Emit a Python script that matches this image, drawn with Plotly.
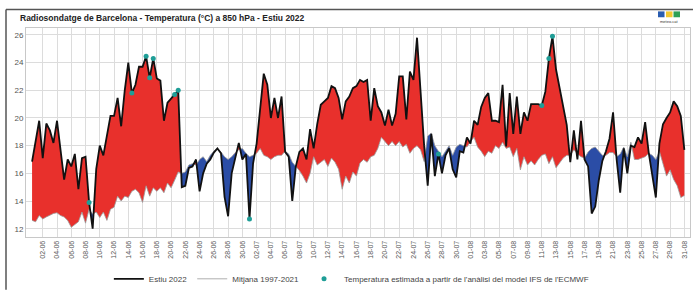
import numpy as np
import pandas as pd
import plotly.graph_objects as go

# ---- Data (12-hourly soundings, from 31-05 12Z to 31-08 00Z) ----
start_time = "2022-05-31 12:00"

obs_2022 = [
    16.85, 18.3, 19.8, 17.1, 19.6, 19.1, 18.2, 19.8, 17.7, 15.55,
    17.0, 16.5, 17.4, 14.85, 17.1, 17.2, 13.9, 12.0, 16.3, 18.0,
    17.3, 18.8, 20.15, 20.15, 21.45, 19.4, 22.0, 24.0, 21.8, 22.4,
    23.7, 23.7, 24.45, 22.9, 24.3, 22.85, 22.7, 19.8, 21.1, 21.4,
    21.7, 22.0, 15.0, 15.1, 16.4, 16.5, 17.0, 14.7, 16.0, 16.7,
    17.0, 17.5, 17.8, 17.45, 14.3, 12.9, 16.0, 17.0, 18.2, 17.0,
    17.4, 12.7, 16.7, 18.15, 20.5, 23.2, 22.4, 20.0, 21.45, 20.0,
    21.55, 17.55, 17.2, 14.0, 16.5, 17.55, 17.8, 17.0, 19.2, 17.8,
    19.55, 20.95, 21.2, 21.45, 22.3, 22.15, 21.45, 19.9, 21.2, 21.55,
    22.15, 22.3, 22.75, 22.6, 22.75, 19.8, 22.15, 20.85, 20.4, 19.45,
    20.6, 19.45, 20.3, 23.0, 23.0, 19.9, 23.35, 22.75, 25.8, 21.5,
    18.0, 15.1, 18.85, 15.8, 17.4, 16.0, 17.3, 17.8, 16.3, 15.7,
    17.6, 17.5, 18.6, 18.15, 19.8, 19.5, 20.8, 21.45, 21.8, 19.8,
    19.8, 19.7, 22.4, 17.95, 21.8, 18.85, 21.55, 18.85, 20.4, 19.8,
    21.0, 21.0, 21.0, 20.9, 21.9, 24.3, 25.9, 23.5, 22.2, 21.0,
    19.5, 16.8, 19.1, 17.0, 19.8, 17.0, 16.5, 13.1, 13.6, 15.5,
    16.9, 17.6, 18.5, 20.4, 17.0, 14.6, 17.8, 16.0, 18.0, 17.9,
    18.6, 18.15, 19.7, 17.5, 16.0, 14.25, 18.15, 19.55, 20.0, 20.4,
    21.2, 20.85, 20.15, 17.7,
]

mean_1997_2021 = [
    12.6, 12.5, 12.95, 12.7, 12.85, 13.0, 13.1, 13.15, 12.95, 12.85,
    12.6, 12.1, 12.3, 12.5, 13.2, 12.4, 13.4, 13.05, 13.2, 12.8,
    13.2, 12.6, 13.4, 13.55, 14.35, 14.0, 14.35, 14.25, 14.7, 14.85,
    14.6, 13.9, 15.1, 14.35, 14.95, 14.7, 14.95, 14.6, 15.3, 14.95,
    15.5, 16.1, 16.0, 16.1, 16.6, 16.7, 16.6, 17.0, 17.2, 16.85,
    17.3, 17.6, 17.8, 17.55, 17.2, 17.0, 17.2, 17.5, 17.7, 17.8,
    17.45, 17.2, 17.3, 17.45, 17.8, 17.3, 17.2, 17.0, 17.2, 17.3,
    17.3, 17.6, 17.4, 16.8, 16.5, 16.2, 15.8, 15.3, 16.0, 17.2,
    16.6, 16.8, 17.0, 16.5, 17.1, 16.8, 16.3, 14.85, 15.8, 15.3,
    16.1, 15.8, 16.75, 17.0, 16.8, 17.2, 17.3, 17.8, 18.6, 18.3,
    18.0, 18.3, 18.0, 18.3, 17.9, 18.1, 17.45, 17.8, 18.0, 17.7,
    16.85, 18.7, 18.9, 18.0, 17.6, 17.2, 17.6, 18.0, 17.3, 17.9,
    18.1, 18.0, 17.9, 18.3, 18.6, 17.9, 17.6, 17.2, 17.6, 17.45,
    18.0, 17.8, 18.25, 17.8, 17.9, 17.2, 17.8, 16.25, 17.2, 16.6,
    16.9, 16.6, 17.0, 17.3, 17.4, 16.7, 17.2, 16.4, 16.8, 17.1,
    17.3, 17.3, 17.7, 17.4, 17.2, 17.1, 17.55, 17.8, 17.9, 17.6,
    17.3, 17.3, 17.5, 17.5, 17.2, 17.4, 17.9, 17.2, 18.25, 17.0,
    17.0, 17.1, 17.2, 17.45, 17.3, 17.0, 17.6, 16.7, 15.8, 16.25,
    15.55, 15.1, 14.25, 14.4,
]

# soundings replaced by the ECMWF IFS analysis (index in the series)
estimated_idx = [16, 28, 32, 33, 34, 40, 41, 61, 114, 143, 145, 146]

tick_labels = ["02-06", "04-06", "06-06", "08-06", "10-06", "12-06", "14-06", "16-06",
               "18-06", "20-06", "22-06", "24-06", "26-06", "28-06", "30-06",
               "02-07", "04-07", "06-07", "08-07", "10-07", "12-07", "14-07", "16-07",
               "18-07", "20-07", "22-07", "24-07", "26-07", "28-07", "30-07",
               "01-08", "03-08", "05-08", "07-08", "09-08", "11-08", "13-08", "15-08",
               "17-08", "19-08", "21-08", "23-08", "25-08", "27-08", "29-08", "31-08"]

# ---- Build geometry ----
obs = np.array(obs_2022, dtype=float)
mean = np.array(mean_1997_2021, dtype=float)
n = len(obs)
t0 = pd.Timestamp(start_time)
times = t0 + pd.to_timedelta(np.arange(n) * 12, unit="h")

# refine with crossing points so the fills switch colour exactly at crossings
xs, oo, mm = [], [], []
for k in range(n):
    xs.append(float(k)); oo.append(obs[k]); mm.append(mean[k])
    if k < n - 1:
        d0 = obs[k] - mean[k]
        d1 = obs[k + 1] - mean[k + 1]
        if d0 * d1 < 0:
            f = d0 / (d0 - d1)
            v = obs[k] + f * (obs[k + 1] - obs[k])
            xs.append(k + f); oo.append(v); mm.append(v)
xs = np.array(xs); oo = np.array(oo); mm = np.array(mm)
xt = t0 + pd.to_timedelta(xs * 12, unit="h")
upper = np.maximum(oo, mm)
lower = np.minimum(oo, mm)

RED = "#e8302c"
BLUE = "#2b4da6"
TEAL = "#1f9e97"

fig = go.Figure()
fig.add_trace(go.Scatter(x=xt, y=mm, mode="lines", line=dict(width=0), showlegend=False, hoverinfo="skip"))
fig.add_trace(go.Scatter(x=xt, y=upper, mode="lines", line=dict(width=0), fill="tonexty",
                         fillcolor=RED, showlegend=False, hoverinfo="skip"))
fig.add_trace(go.Scatter(x=xt, y=mm, mode="lines", line=dict(width=0), showlegend=False, hoverinfo="skip"))
fig.add_trace(go.Scatter(x=xt, y=lower, mode="lines", line=dict(width=0), fill="tonexty",
                         fillcolor=BLUE, showlegend=False, hoverinfo="skip"))

fig.add_trace(go.Scatter(x=times, y=mean, mode="lines", name="Mitjana 1997-2021",
                         line=dict(color="#9a9a9a", width=0.8), legendrank=2))
fig.add_trace(go.Scatter(x=times, y=obs, mode="lines", name="Estiu 2022",
                         line=dict(color="#111111", width=1.8), legendrank=1))
fig.add_trace(go.Scatter(x=times[estimated_idx], y=obs[estimated_idx], mode="markers",
                         name="Temperatura estimada a partir de l'anàlisi del model IFS de l'ECMWF",
                         marker=dict(color=TEAL, size=5), legendrank=3))

tickvals = pd.Timestamp("2022-06-02") + pd.to_timedelta(np.arange(len(tick_labels)) * 2, unit="D")

fig.update_xaxes(
    range=[pd.Timestamp("2022-05-30 15:36"), pd.Timestamp("2022-08-31 19:00")],
    tickmode="array", tickvals=tickvals, ticktext=tick_labels, tickangle=-90,
    tickfont=dict(size=7, color="#555555", family="Liberation Sans"),
    showgrid=True, gridcolor="#dcdcdc", gridwidth=1,
    showline=True, linecolor="#c8c8c8", linewidth=1, mirror=True,
    ticks="", zeroline=False, automargin=False,
)
fig.update_yaxes(
    range=[11.4, 26.5], tickvals=[12, 14, 16, 18, 20, 22, 24, 26],
    tickfont=dict(size=8, color="#555555", family="Liberation Sans"),
    showgrid=True, gridcolor="#dcdcdc", gridwidth=1,
    showline=True, linecolor="#c8c8c8", linewidth=1, mirror=True,
    ticks="", zeroline=False, automargin=False,
)

shapes = [
    # outer page frame (top and left)
    dict(type="line", xref="paper", yref="paper", x0=(6 - 26) / 664, x1=(693 - 26) / 664,
         y0=(242 - 9) / 214, y1=(242 - 9) / 214, line=dict(color="#555555", width=1.5)),
    dict(type="line", xref="paper", yref="paper", x0=(6 - 26) / 664, x1=(6 - 26) / 664,
         y0=(242 - 9) / 214, y1=(242 - 296) / 214, line=dict(color="#555555", width=1.5)),
]
# small logo squares
for x0p, col in [(658, "#2a5db0"), (666, "#f2c830"), (673.5, "#2ea055")]:
    shapes.append(dict(type="rect", xref="paper", yref="paper",
                       x0=(x0p - 26) / 664, x1=(x0p + 6.5 - 26) / 664,
                       y0=(242 - 17) / 214, y1=(242 - 11) / 214,
                       line=dict(width=0), fillcolor=col))

fig.update_layout(
    width=693, height=296,
    margin=dict(l=26, r=3, t=28, b=54),
    paper_bgcolor="white", plot_bgcolor="white",
    font=dict(family="Liberation Sans", color="#333333"),
    title=dict(text="<b>Radiosondatge de Barcelona - Temperatura (°C) a 850 hPa - Estiu 2022</b>",
               x=20 / 693, xanchor="left", xref="container",
               y=1 - 18 / 296, yanchor="middle", yref="container",
               pad=dict(l=0, r=0, t=0, b=0),
               font=dict(size=8.5, color="#222222", family="Liberation Sans")),
    legend=dict(orientation="h", x=0.49, xanchor="center", y=-0.2, yanchor="middle",
                font=dict(size=8, color="#444444"), bgcolor="rgba(0,0,0,0)",
                itemwidth=30, tracegroupgap=0, traceorder="normal"),
    shapes=shapes,
    annotations=[dict(text="meteo.cat", xref="paper", yref="paper", x=(669 - 26) / 664,
                      y=(242 - 21) / 214, showarrow=False, font=dict(size=4, color="#333333"),
                      xanchor="center", yanchor="middle")],
    showlegend=True,
)

fig.write_html("out.html", config={"displayModeBar": False},
               post_script="document.body.style.margin='0';document.body.style.overflow='hidden';")
